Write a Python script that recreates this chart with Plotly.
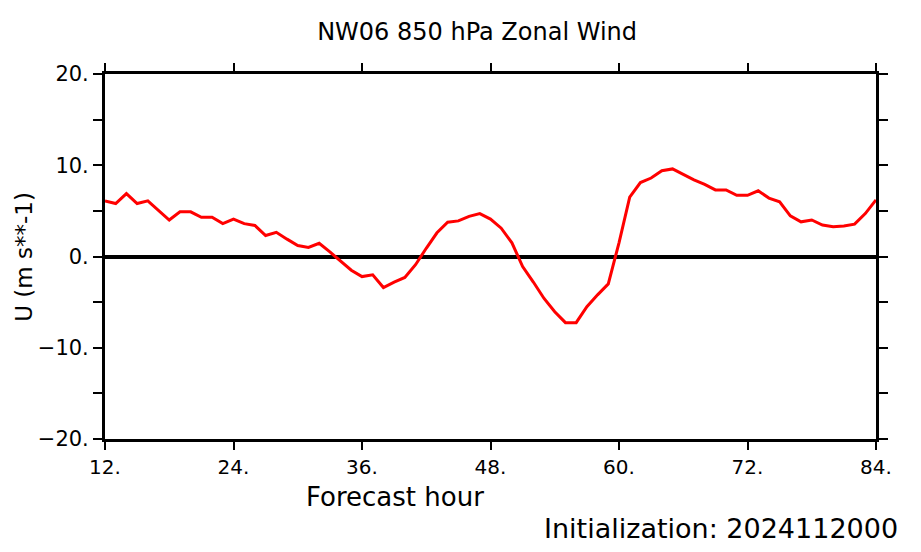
import plotly.graph_objects as go

hours = list(range(12, 85))
u_wind = [6.1, 5.8, 6.9, 5.8, 6.1, 5.0, 4.0, 4.9, 4.9, 4.3,
          4.3, 3.6, 4.1, 3.6, 3.4, 2.3, 2.65, 1.9, 1.2, 1.0,
          1.45, 0.5, -0.5, -1.5, -2.2, -2.0, -3.4, -2.8, -2.3, -0.9,
          0.9, 2.6, 3.75, 3.9, 4.4, 4.7, 4.1, 3.1, 1.5, -1.1,
          -2.8, -4.6, -6.05, -7.25, -7.25, -5.5, -4.2, -3.0, 1.5, 6.5,
          8.1, 8.6, 9.4, 9.6, 9.0, 8.4, 7.9, 7.3, 7.3, 6.7,
          6.7, 7.2, 6.4, 6.0, 4.45, 3.8, 4.0, 3.45, 3.25, 3.35,
          3.55, 4.7, 6.2]

x_ticks = [12, 24, 36, 48, 60, 72, 84]
x_labels = ["12.", "24.", "36.", "48.", "60.", "72.", "84."]
y_ticks = [-20, -10, 0, 10, 20]
y_labels = ["\u221220.", "\u221210.", "0.", "10.", "20."]
minor_y = [-15, -5, 5, 15]

font_family = "DejaVu Sans"

fig = go.Figure()
fig.add_trace(go.Scatter(x=hours, y=u_wind, mode="lines",
                         line=dict(color="#ff0000", width=3),
                         showlegend=False))

fig.update_layout(
    width=921, height=552,
    margin=dict(l=105, r=45, t=74, b=113),
    paper_bgcolor="white", plot_bgcolor="white",
    font=dict(family=font_family, color="black", size=16),
    title=dict(text="NW06 850 hPa Zonal Wind", x=0.518, xanchor="center",
               y=0.942, yanchor="middle", font=dict(size=24)),
    xaxis=dict(range=[12, 84], tickvals=x_ticks, ticktext=x_labels,
               showgrid=False, zeroline=False, showline=True,
               linecolor="black", linewidth=3, mirror="ticks",
               ticks="outside", ticklen=8, tickwidth=2, tickcolor="black",
               tickfont=dict(size=20)),
    yaxis=dict(range=[-20, 20], tickvals=y_ticks, ticktext=y_labels,
               showgrid=False, zeroline=True, zerolinecolor="black",
               zerolinewidth=4, showline=True,
               linecolor="black", linewidth=3, mirror="ticks",
               ticks="outside", ticklen=9, tickwidth=2, tickcolor="black",
               minor=dict(tickvals=minor_y, ticks="outside",
                          ticklen=9, tickwidth=2, tickcolor="black"),
               tickfont=dict(size=21)),
    annotations=[
        dict(text="Forecast hour", xref="paper", yref="paper",
             x=0.376, y=-0.158, xanchor="center", yanchor="middle",
             showarrow=False, font=dict(size=26)),
        dict(text="U (m s**-1)", xref="paper", yref="paper",
             x=-0.106, y=0.5, xanchor="center", yanchor="middle",
             textangle=-90, showarrow=False, font=dict(size=23)),
        dict(text="Initialization: 2024112000", xref="paper",
             yref="paper", x=1.031, y=-0.245, xanchor="right",
             yanchor="middle", showarrow=False, font=dict(size=27)),
    ],
)

fig.write_html("out.html")
